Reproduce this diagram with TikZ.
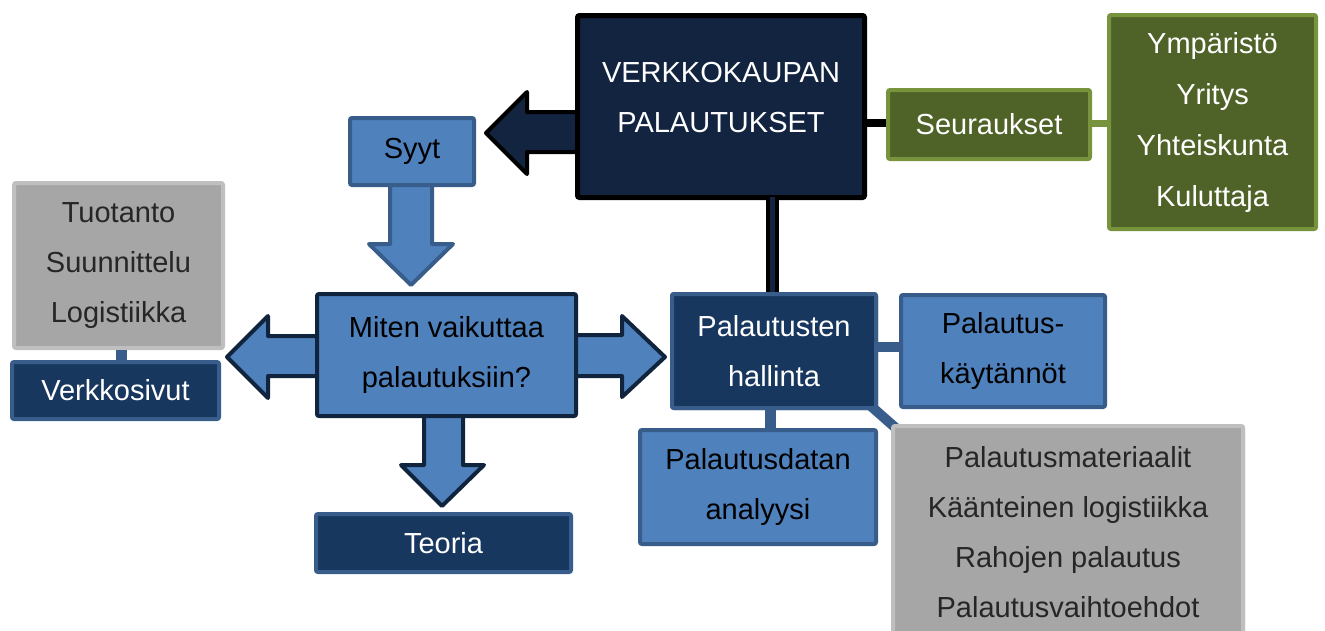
\documentclass[tikz,border=0pt]{standalone}
\usepackage{fontspec}
\setmainfont{Liberation Sans}
\definecolor{lblue}{HTML}{4F81BD}
\definecolor{bord}{HTML}{385D8A}
\definecolor{navy}{HTML}{17375E}
\definecolor{mainfill}{HTML}{12243F}
\definecolor{mitenbord}{HTML}{10243E}
\definecolor{gfill}{HTML}{4F6228}
\definecolor{gbord}{HTML}{77933C}
\definecolor{grayfill}{HTML}{A6A6A6}
\definecolor{graybord}{HTML}{BFBFBF}
\definecolor{graytext}{HTML}{262626}
\begin{document}
\begin{tikzpicture}[x=1pt,y=-1pt,
  txt/.style={font=\fontsize{29}{50}\selectfont, align=center, inner sep=0pt},
  box/.style={txt, rectangle, rounded corners=2pt, line width=4pt},
  bluebox/.style={box, fill=lblue, draw=bord, text=black},
  navybox/.style={box, fill=navy, draw=bord, text=white},
  greenbox/.style={box, fill=gfill, draw=gbord, text=white},
  graybox/.style={box, fill=grayfill, draw=graybord, text=graytext},
  blockarrow/.style={line width=4pt, line join=round},
  link/.style={line width=11pt, draw=bord}
]
\clip (0,0) rectangle (1325,630);
\useasboundingbox (0,0) rectangle (1325,630);

% block arrows (drawn first, boxes cover their bases)
\draw[blockarrow, fill=mainfill, draw=black] (578,112) -- (527,112) -- (527,92) -- (486,133) -- (527,174) -- (527,152) -- (578,152) -- cycle;
\draw[blockarrow, fill=lblue, draw=bord] (390,184) -- (390,244) -- (369,244) -- (411,285) -- (453,244) -- (432,244) -- (432,184) -- cycle;
\draw[blockarrow, fill=lblue, draw=mitenbord] (318,336) -- (268,336) -- (268,316) -- (227,357) -- (268,398) -- (268,376) -- (318,376) -- cycle;
\draw[blockarrow, fill=lblue, draw=mitenbord] (575,335) -- (622,335) -- (622,316) -- (665,357) -- (622,397) -- (622,376) -- (575,376) -- cycle;
\draw[blockarrow, fill=lblue, draw=mitenbord] (424,415) -- (424,465) -- (401,465) -- (442,506) -- (484,465) -- (463,465) -- (463,415) -- cycle;

% boxes
\node[box, fill=mainfill, draw=black, line width=5pt, minimum width=287pt, minimum height=182pt] (main) at (721,106.5) {};
\node[txt, text=white] (maintxt) at (721,98) {VERKKOKAUPAN\\PALAUTUKSET};
\node[greenbox, minimum width=202pt, minimum height=69pt] (seur) at (989,124.5) {Seuraukset};
\node[greenbox, minimum width=207pt, minimum height=214pt, font=\fontsize{29}{51}\selectfont] (cons) at (1212.5,122) {Ympäristö\\Yritys\\Yhteiskunta\\Kuluttaja};
\node[bluebox, minimum width=124pt, minimum height=67pt] (syyt) at (412,151.5) {Syyt};
\node[bluebox, draw=mitenbord, minimum width=259pt, minimum height=122pt] (miten) at (446.5,355) {Miten vaikuttaa\\palautuksiin?};
\node[navybox, minimum width=255pt, minimum height=58pt] (teoria) at (443.5,543) {Teoria};
\node[graybox, minimum width=209pt, minimum height=165pt] (factors) at (118.5,265.5) {Tuotanto\\Suunnittelu\\Logistiikka};
\node[navybox, minimum width=207pt, minimum height=57pt] (verkko) at (115.5,390.5) {Verkkosivut};
\node[navybox, minimum width=204pt, minimum height=114pt] (hall) at (774,351) {Palautusten\\hallinta};
\node[bluebox, minimum width=204pt, minimum height=112pt] (kayt) at (1003,351) {Palautus-\\käytännöt};
\node[bluebox, minimum width=236pt, minimum height=114pt] (data) at (758,487) {Palautusdatan\\analyysi};
\node[graybox, minimum width=350pt, minimum height=212pt] (manage) at (1068,532) {Palautusmateriaalit\\Käänteinen logistiikka\\Rahojen palautus\\Palautusvaihtoehdot};

% connectors
\draw[line width=8pt, black] (main.east |- 0,123) -- (seur.west |- 0,123);
\draw[line width=7pt, gbord] (seur.east |- 0,123) -- (cons.west |- 0,123);
\draw[line width=13pt, black] (main.south -| 772,0) -- (hall.north -| 772,0);
\draw[line width=5pt, mainfill] ([yshift=3pt]main.south -| 772,0) -- ([yshift=-3pt]hall.north -| 772,0);
\draw[link] (factors.south -| 121,0) -- (verkko.north -| 121,0);
\draw[link, line width=10pt] (hall.east |- 0,347) -- (kayt.west |- 0,347);
\draw[link] (hall.south -| 770,0) -- (data.north -| 770,0);
\draw[link, line width=10pt] ([xshift=-14pt,yshift=10pt]hall.south east) -- ([xshift=7pt,yshift=-6pt]manage.north west);
% redraw boxes over connector ends
\node[navybox, minimum width=204pt, minimum height=114pt] at (774,351) {Palautusten\\hallinta};
\node[graybox, minimum width=350pt, minimum height=212pt] at (1068,532) {Palautusmateriaalit\\Käänteinen logistiikka\\Rahojen palautus\\Palautusvaihtoehdot};
\end{tikzpicture}
\end{document}
